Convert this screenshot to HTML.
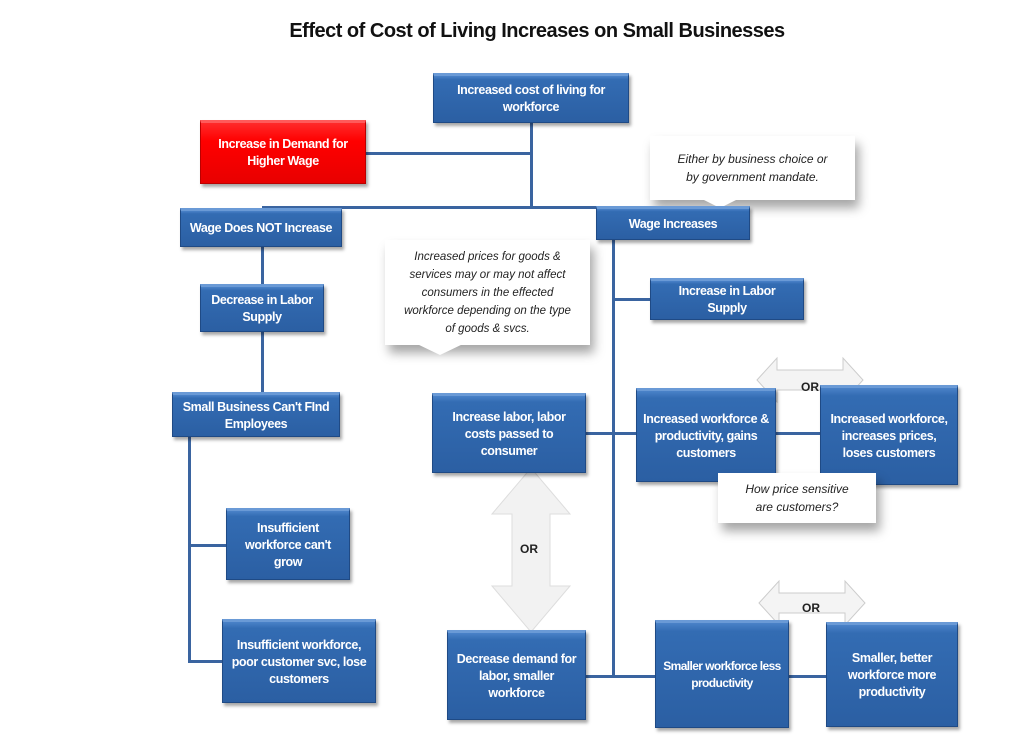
<!DOCTYPE html>
<html><head><meta charset="utf-8"><style>
body{margin:0;width:1024px;height:749px;background:#fff;position:relative;overflow:hidden;font-family:"Liberation Sans",sans-serif}
.b{position:absolute;box-sizing:border-box;background:linear-gradient(#4a82c8 0,#336cb3 8%,#2b5fa3 100%);border:1px solid #1f4a85;border-top:3px solid #6a9ad6;color:#fff;font-weight:bold;font-size:12.5px;line-height:17px;display:flex;align-items:center;justify-content:center;text-align:center;box-shadow:2px 3px 3px rgba(0,0,0,.35);letter-spacing:-0.4px;padding:0 1px}
.r{background:linear-gradient(#ff2a2a,#f00 30%,#e80000);border:1px solid #b00;border-top:3px solid #ff5a5a}
.l{position:absolute;background:#3a64a0}
.c{position:absolute;background:#fff;box-shadow:4px 8px 10px rgba(0,0,0,.35);font-style:italic;font-size:12px;line-height:18px;color:#222;text-align:center;display:flex;align-items:center;justify-content:center;box-sizing:border-box}
h1{position:absolute;left:0;width:1074px;top:20px;margin:0;text-align:center;font-size:20px;font-weight:bold;color:#111;letter-spacing:-0.5px}
.or{position:absolute;font-size:12px;font-weight:bold;color:#222}
</style></head><body>
<h1>Effect of Cost of Living Increases on Small Businesses</h1>
<div class="l" style="left:530px;top:123px;width:3px;height:85px"></div>
<div class="l" style="left:366px;top:152px;width:166px;height:3px"></div>
<div class="l" style="left:262px;top:206px;width:380px;height:3px"></div>
<div class="l" style="left:261px;top:247px;width:3px;height:146px"></div>
<div class="l" style="left:612px;top:240px;width:3px;height:438px"></div>
<div class="l" style="left:613px;top:298px;width:38px;height:3px"></div>
<div class="l" style="left:586px;top:432px;width:50px;height:3px"></div>
<div class="l" style="left:776px;top:432px;width:45px;height:3px"></div>
<div class="l" style="left:586px;top:675px;width:70px;height:3px"></div>
<div class="l" style="left:789px;top:675px;width:37px;height:3px"></div>
<div class="l" style="left:188px;top:437px;width:3px;height:226px"></div>
<div class="l" style="left:188px;top:544px;width:38px;height:3px"></div>
<div class="l" style="left:188px;top:660px;width:34px;height:3px"></div>
<div class="c" style="left:650px;top:136px;width:205px;height:64px">Either by business choice or<br>by government mandate.</div>
<svg style="position:absolute;left:700px;top:198px" width="40" height="12"><polygon points="0,0 40,0 20,10" fill="#fff"/></svg>
<div class="c" style="left:385px;top:240px;width:205px;height:105px;font-size:11.5px">Increased prices for goods &amp;<br>services may or may not affect<br>consumers in the effected<br>workforce depending on the type<br>of goods &amp; svcs.</div>
<svg style="position:absolute;left:415px;top:343px" width="50" height="14"><polygon points="0,0 50,0 25,12" fill="#fff"/></svg>
<svg style="position:absolute;left:755px;top:355px" width="110" height="50"><polygon points="2,25 22,3 22,15 88,15 88,3 108,25 88,47 88,35 22,35 22,47" fill="#f4f4f4" stroke="#ccc"/></svg>
<div class="or" style="left:801px;top:380px">OR</div>
<svg style="position:absolute;left:488px;top:466px" width="86" height="168"><polygon points="43,2 82,48 62,48 62,120 82,120 43,166 4,120 24,120 24,48 4,48" fill="#f2f2f2" stroke="#ddd"/></svg>
<div class="or" style="left:520px;top:542px">OR</div>
<svg style="position:absolute;left:757px;top:578px" width="110" height="50"><polygon points="2,25 22,3 22,15 88,15 88,3 108,25 88,47 88,35 22,35 22,47" fill="#f4f4f4" stroke="#ccc"/></svg>
<div class="or" style="left:802px;top:601px">OR</div>
<div class="b" style="left:433px;top:73px;width:196px;height:50px">Increased cost of living for<br>workforce</div>
<div class="b r" style="left:200px;top:120px;width:166px;height:64px">Increase in Demand for<br>Higher Wage</div>
<div class="b" style="left:180px;top:208px;width:162px;height:39px">Wage Does NOT Increase</div>
<div class="b" style="left:596px;top:206px;width:154px;height:34px">Wage Increases</div>
<div class="b" style="left:200px;top:284px;width:124px;height:48px">Decrease in Labor<br>Supply</div>
<div class="b" style="left:172px;top:392px;width:168px;height:45px">Small Business Can't FInd<br>Employees</div>
<div class="b" style="left:226px;top:508px;width:124px;height:72px">Insufficient<br>workforce can't<br>grow</div>
<div class="b" style="left:222px;top:619px;width:154px;height:84px">Insufficient workforce,<br>poor customer svc, lose<br>customers</div>
<div class="b" style="left:650px;top:278px;width:154px;height:42px">Increase in Labor<br>Supply</div>
<div class="b" style="left:432px;top:393px;width:154px;height:80px">Increase labor, labor<br>costs passed to<br>consumer</div>
<div class="b" style="left:636px;top:388px;width:140px;height:94px">Increased workforce &amp;<br>productivity, gains<br>customers</div>
<div class="b" style="left:820px;top:385px;width:138px;height:100px">Increased workforce,<br>increases prices,<br>loses customers</div>
<div class="b" style="left:447px;top:630px;width:139px;height:90px">Decrease demand for<br>labor, smaller<br>workforce</div>
<div class="b" style="left:655px;top:620px;width:134px;height:108px;font-size:12px;letter-spacing:-0.6px">Smaller workforce less<br>productivity</div>
<div class="b" style="left:826px;top:622px;width:132px;height:105px">Smaller, better<br>workforce more<br>productivity</div>
<div class="c" style="left:718px;top:473px;width:158px;height:50px">How price sensitive<br>are customers?</div>
</body></html>
